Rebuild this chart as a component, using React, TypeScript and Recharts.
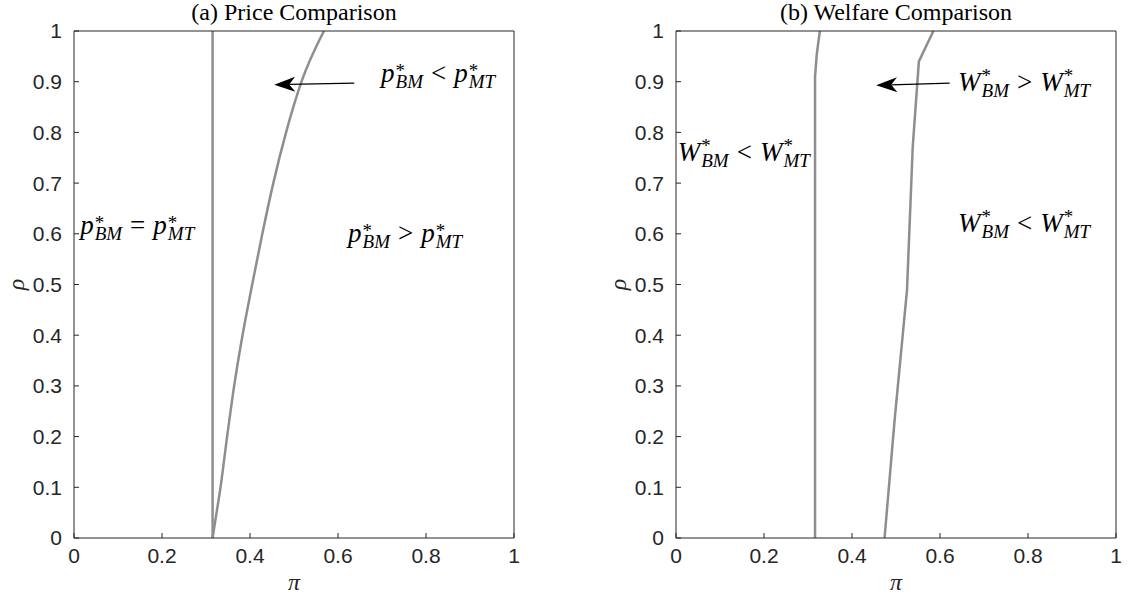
import React from 'react';
import { LineChart, Line, XAxis, YAxis, ReferenceLine, ReferenceDot } from 'recharts';

const xTicks = [0, 0.2, 0.4, 0.6, 0.8, 1];
const yTicks = [0, 0.1, 0.2, 0.3, 0.4, 0.5, 0.6, 0.7, 0.8, 0.9, 1];

// (a) price comparison: boundary curves as (pi, rho) pairs
const priceFlatPi = [0.315, 0.315];
const priceFlatRho = [0, 1];
const priceCurvePi = [0.315, 0.324, 0.333, 0.348, 0.364, 0.383, 0.405, 0.428, 0.453, 0.482, 0.517, 0.568];
const priceCurveRho = [0, 0.05, 0.1, 0.2, 0.3, 0.4, 0.5, 0.6, 0.7, 0.8, 0.9, 1];

// (b) welfare comparison
const welfareLeftPi = [0.316, 0.316, 0.32, 0.327];
const welfareLeftRho = [0, 0.91, 0.955, 1];
const welfareRightPi = [0.474, 0.497, 0.525, 0.538, 0.552, 0.585];
const welfareRightRho = [0, 0.234, 0.489, 0.771, 0.94, 1];

// region labels: where each one starts (pi) and its baseline (rho)
const priceNotes = [
  { pi: 0.698, rho: 0.9, op: '<' },
  { pi: 0.014, rho: 0.6, op: '=' },
  { pi: 0.623, rho: 0.584, op: '>' },
];
const welfareNotes = [
  { pi: 0.641, rho: 0.882, op: '>' },
  { pi: 0.004, rho: 0.744, op: '<' },
  { pi: 0.641, rho: 0.604, op: '<' },
];

// arrows: tail -> tip
const priceArrow = [{ x: 0.637, y: 0.897 }, { x: 0.455, y: 0.894 }];
const welfareArrow = [{ x: 0.622, y: 0.897 }, { x: 0.455, y: 0.893 }];

const zip = (pi: number[], rho: number[]) => pi.map((p, i) => ({ pi: p, rho: rho[i] }));

const AXIS = '#262626';
const CURVE = '#8e8e8e';
const SANS = "'Liberation Sans', Arial, sans-serif";
const SERIF = "'Liberation Serif', 'Times New Roman', serif";

function MathNote({ cx, cy, base, op }: { cx: number; cy: number; base: string; op: string }) {
  const big = 27;
  const small = 19;
  const rise = base === 'W' ? 9 : 5;
  const drop = 6;
  return (
    <text x={cx} y={cy} fontFamily={SERIF} fontSize={big} fill="#000">
      <tspan fontStyle="italic">{base}</tspan>
      <tspan fontSize={small} dx={1} dy={-rise}>*</tspan>
      <tspan fontSize={small} fontStyle="italic" dx={-small * 0.5} dy={rise + drop}>BM</tspan>
      <tspan dx={8} dy={-drop}>{op}</tspan>
      <tspan fontStyle="italic" dx={8}>{base}</tspan>
      <tspan fontSize={small} dx={1} dy={-rise}>*</tspan>
      <tspan fontSize={small} fontStyle="italic" dx={-small * 0.5} dy={rise + drop}>MT</tspan>
    </text>
  );
}

function Arrow(props: any) {
  const { x1, y1, x2, y2 } = props;
  const len = Math.hypot(x2 - x1, y2 - y1) || 1;
  const ux = (x2 - x1) / len;
  const uy = (y2 - y1) / len;
  const px = -uy;
  const py = ux;
  const headLen = 21;
  const halfW = 7.5;
  const notch = 15;
  const nx = x2 - ux * notch;
  const ny = y2 - uy * notch;
  const bx = x2 - ux * headLen;
  const by = y2 - uy * headLen;
  return (
    <g>
      <line x1={x1} y1={y1} x2={nx} y2={ny} stroke="#000" strokeWidth={1.3} />
      <path
        d={`M${x2},${y2} L${bx + px * halfW},${by + py * halfW} L${nx},${ny} L${bx - px * halfW},${by - py * halfW} Z`}
        fill="#000"
      />
    </g>
  );
}

interface PanelProps {
  title: string;
  width: number;
  left: number;
  right: number;
  series: { pi: number; rho: number }[][];
  smooth: boolean[];
  notes: { pi: number; rho: number; op: string }[];
  base: string;
  arrow: { x: number; y: number }[];
}

// axes take a 1px band each (a zero-size axis is not drawn); margins hold the rest
function Panel({ title, width, left, right, series, smooth, notes, base, arrow }: PanelProps) {
  const tickStyle = { fill: AXIS, fontSize: 21, fontFamily: SANS };
  return (
    <LineChart width={width} height={602} margin={{ top: 30, right: right - 1, bottom: 63, left: left - 1 }}>
      <XAxis
        xAxisId="b"
        type="number"
        dataKey="pi"
        domain={[0, 1]}
        ticks={xTicks}
        interval={0}
        height={1}
        tickSize={-5}
        tickMargin={15}
        stroke={AXIS}
        tick={tickStyle}
        label={{
          content: (p: any) => (
            <text
              x={p.viewBox.x + p.viewBox.width / 2}
              y={590}
              textAnchor="middle"
              fontFamily={SERIF}
              fontStyle="italic"
              fontSize={24}
              fill={AXIS}
            >
              π
            </text>
          ),
        }}
      />
      <XAxis
        xAxisId="t"
        orientation="top"
        type="number"
        dataKey="pi"
        domain={[0, 1]}
        ticks={xTicks}
        interval={0}
        height={1}
        tickSize={-5}
        tick={false}
        stroke={AXIS}
        label={{
          content: (p: any) => (
            <text
              x={p.viewBox.x + p.viewBox.width / 2}
              y={20}
              textAnchor="middle"
              fontFamily={SERIF}
              fontSize={24}
              fill="#000"
            >
              {title}
            </text>
          ),
        }}
      />
      <YAxis
        yAxisId="l"
        type="number"
        dataKey="rho"
        domain={[0, 1]}
        ticks={yTicks}
        interval={0}
        width={1}
        tickSize={-5}
        tickMargin={17}
        stroke={AXIS}
        tick={tickStyle}
        label={{
          content: (p: any) => {
            const lx = p.viewBox.x + p.viewBox.width - 50;
            const ly = p.viewBox.y + p.viewBox.height / 2;
            return (
              <text
                x={lx}
                y={ly}
                transform={`rotate(-90, ${lx}, ${ly})`}
                textAnchor="middle"
                fontFamily={SERIF}
                fontStyle="italic"
                fontSize={24}
                fill={AXIS}
              >
                ρ
              </text>
            );
          },
        }}
      />
      <YAxis
        yAxisId="r"
        orientation="right"
        type="number"
        dataKey="rho"
        domain={[0, 1]}
        ticks={yTicks}
        interval={0}
        width={1}
        tickSize={-5}
        tick={false}
        stroke={AXIS}
      />
      {series.map((d, i) => (
        <Line
          key={i}
          data={d}
          xAxisId="b"
          yAxisId="l"
          dataKey="rho"
          type={smooth[i] ? 'monotoneX' : 'linear'}
          stroke={CURVE}
          strokeWidth={2.5}
          dot={false}
          activeDot={false}
          isAnimationActive={false}
        />
      ))}
      <ReferenceLine xAxisId="b" yAxisId="l" segment={arrow} shape={(p: any) => <Arrow {...p} />} />
      {notes.map((n, i) => (
        <ReferenceDot
          key={i}
          xAxisId="b"
          yAxisId="l"
          x={n.pi}
          y={n.rho}
          r={0}
          shape={(p: any) => <MathNote cx={p.cx} cy={p.cy} base={base} op={n.op} />}
        />
      ))}
    </LineChart>
  );
}

export default function App() {
  return (
    <div style={{ position: 'absolute', left: 0, top: 0, width: 1133, height: 602, background: '#fff', display: 'flex' }}>
      <Panel
        title="(a) Price Comparison"
        width={560}
        left={74}
        right={46}
        series={[zip(priceFlatPi, priceFlatRho), zip(priceCurvePi, priceCurveRho)]}
        smooth={[false, true]}
        notes={priceNotes}
        base="p"
        arrow={priceArrow}
      />
      <Panel
        title="(b) Welfare Comparison"
        width={573}
        left={116}
        right={17}
        series={[zip(welfareLeftPi, welfareLeftRho), zip(welfareRightPi, welfareRightRho)]}
        smooth={[false, false]}
        notes={welfareNotes}
        base="W"
        arrow={welfareArrow}
      />
    </div>
  );
}
